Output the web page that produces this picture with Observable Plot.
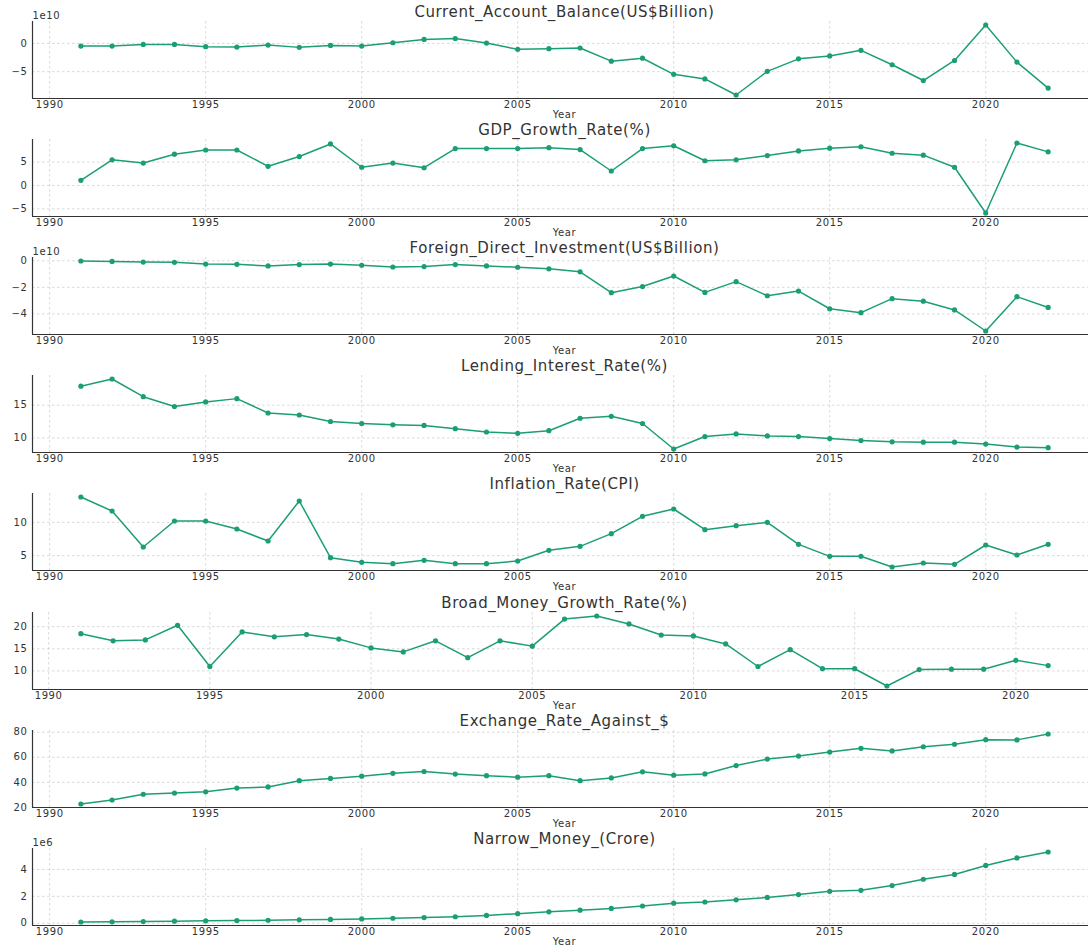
<!DOCTYPE html>
<html>
<head>
<meta charset="utf-8">
<script src="https://cdn.jsdelivr.net/npm/d3@7"></script>
<script src="https://cdn.jsdelivr.net/npm/@observablehq/plot@0.6"></script>
<style>
  html, body { margin: 0; padding: 0; background: #fff; overflow: hidden; }
  #charts { position: relative; width: 1096px; height: 945px; }
  #charts svg { position: absolute; left: 0; }
</style>
</head>
<body>
<div id="charts"></div>
<script>
// Calendar years covered by the indicators
const years = [1991, 1992, 1993, 1994, 1995, 1996, 1997, 1998, 1999, 2000,
  2001, 2002, 2003, 2004, 2005, 2006, 2007, 2008, 2009, 2010,
  2011, 2012, 2013, 2014, 2015, 2016, 2017, 2018, 2019, 2020, 2021, 2022];

// Current account balance, US$
const currentAccountBalance = [-4.7e9, -4.7e9, -1.7e9, -1.7e9, -5.8e9, -6.4e9, -2.9e9, -7.0e9, -3.5e9, -4.7e9,
  1.2e9, 7.0e9, 8.7e9, 0.6e9, -10.5e9, -9.3e9, -8.1e9, -31.4e9, -26.2e9, -54.7e9,
  -62.8e9, -91.3e9, -49.4e9, -27.3e9, -22.1e9, -12.2e9, -37.8e9, -65.7e9, -30.2e9, 32.6e9, -33.1e9, -79.1e9];

// Real GDP growth, %
const gdpGrowthRate = [1.1, 5.5, 4.8, 6.7, 7.6, 7.6, 4.1, 6.2, 8.9, 3.9,
  4.8, 3.8, 7.9, 7.9, 7.9, 8.1, 7.7, 3.1, 7.9, 8.5,
  5.3, 5.5, 6.4, 7.4, 8.0, 8.3, 6.9, 6.5, 3.9, -5.9, 9.1, 7.2];

// Foreign direct investment (net), US$
const foreignDirectInvestment = [-0.2e9, -0.5e9, -1.0e9, -1.2e9, -2.5e9, -2.7e9, -3.9e9, -2.9e9, -2.5e9, -3.4e9,
  -4.7e9, -4.4e9, -2.9e9, -3.9e9, -4.9e9, -6.1e9, -8.3e9, -24.0e9, -19.4e9, -11.5e9,
  -23.8e9, -15.7e9, -26.3e9, -22.8e9, -36.1e9, -39.0e9, -28.5e9, -30.4e9, -37.0e9, -52.8e9, -27.0e9, -35.1e9];

// Lending interest rate, %
const lendingInterestRate = [17.9, 19.0, 16.3, 14.8, 15.5, 16.0, 13.8, 13.5, 12.5, 12.2,
  12.0, 11.9, 11.4, 10.9, 10.7, 11.1, 13.0, 13.3, 12.2, 8.3,
  10.2, 10.6, 10.3, 10.2, 9.9, 9.6, 9.4, 9.35, 9.35, 9.05, 8.6, 8.5];

// Consumer price inflation, %
const inflationRate = [13.8, 11.7, 6.3, 10.2, 10.2, 9.0, 7.2, 13.2, 4.7, 4.0,
  3.8, 4.3, 3.8, 3.8, 4.2, 5.8, 6.4, 8.3, 10.9, 12.0,
  8.9, 9.5, 10.0, 6.7, 4.9, 4.9, 3.3, 3.9, 3.7, 6.6, 5.1, 6.7];

// Broad money growth, % (series ends in 2021)
const broadMoneyGrowthRate = [18.4, 16.8, 17.0, 20.3, 11.0, 18.8, 17.7, 18.2, 17.2, 15.2,
  14.3, 16.8, 13.0, 16.8, 15.6, 21.7, 22.4, 20.6, 18.1, 17.9,
  16.1, 11.0, 14.8, 10.5, 10.5, 6.6, 10.3, 10.4, 10.4, 12.4, 11.2];

// Exchange rate, rupees per US$
const exchangeRate = [22.7, 25.9, 30.5, 31.4, 32.4, 35.4, 36.3, 41.3, 43.1, 44.9,
  47.2, 48.6, 46.6, 45.3, 44.1, 45.3, 41.3, 43.5, 48.4, 45.7,
  46.7, 53.4, 58.6, 61.0, 64.2, 67.2, 65.1, 68.4, 70.4, 74.1, 73.9, 78.6];

// Narrow money, crore
const narrowMoney = [90000, 105000, 120000, 150000, 175000, 195000, 220000, 250000, 285000, 320000,
  370000, 420000, 480000, 580000, 710000, 850000, 970000, 1100000, 1280000, 1490000,
  1580000, 1740000, 1920000, 2130000, 2370000, 2450000, 2800000, 3270000, 3630000, 4300000, 4860000, 5300000];

// Panel titles, scale divisors, offset labels and y tick values
const titles = ["Current_Account_Balance(US$Billion)", "GDP_Growth_Rate(%)", "Foreign_Direct_Investment(US$Billion)",
  "Lending_Interest_Rate(%)", "Inflation_Rate(CPI)", "Broad_Money_Growth_Rate(%)", "Exchange_Rate_Against_$", "Narrow_Money_(Crore)"];
const series = [currentAccountBalance, gdpGrowthRate, foreignDirectInvestment, lendingInterestRate,
  inflationRate, broadMoneyGrowthRate, exchangeRate, narrowMoney];
const divisors = [1e10, 1, 1e10, 1, 1, 1, 1, 1e6];
const offsetLabels = ["1e10", null, "1e10", null, null, null, null, "1e6"];
const yTicks = [[-5, 0], [-5, 0, 5], [-4, -2, 0], [10, 15], [5, 10], [10, 15, 20], [20, 40, 60, 80], [0, 2, 4]];
const xTicks = [1990, 1995, 2000, 2005, 2010, 2015, 2020];

const color = "#1b9e77";
const W = 1096, H = 118, panelStep = 118.1;
const container = document.getElementById("charts");

titles.forEach((title, i) => {
  const values = series[i];
  const rows = values.map((v, j) => ({year: years[j], v: v / divisors[i]}));
  const [x0, x1] = d3.extent(rows, d => d.year);
  const xpad = (x1 - x0) * 0.05;
  const [y0, y1] = d3.extent(rows, d => d.v);
  const ypad = (y1 - y0) * 0.05;
  const xMin = x0 - xpad, yMin = y0 - ypad;

  const chart = Plot.plot({
    width: W,
    height: H,
    marginLeft: 32,
    marginRight: 0,
    marginTop: 21,
    marginBottom: 20,
    style: {fontFamily: "DejaVu Sans", fontSize: "10px", color: "#333", background: "transparent", overflow: "visible", letterSpacing: "0.6px"},
    x: {domain: [xMin, x1 + xpad]},
    y: {domain: [yMin, y1 + ypad]},
    marks: [
      Plot.gridX(xTicks, {stroke: "#bbb", strokeOpacity: 0.7, strokeWidth: 0.8, strokeDasharray: "2.5,2.5"}),
      Plot.gridY(yTicks[i], {stroke: "#bbb", strokeOpacity: 0.7, strokeWidth: 0.8, strokeDasharray: "2.5,2.5"}),
      Plot.axisX(xTicks, {tickSize: 0, tickPadding: 2, tickFormat: "d", label: null}),
      Plot.axisY(yTicks[i], {tickSize: 0, tickPadding: 5, label: null}),
      Plot.ruleX([xMin], {stroke: "#333", strokeWidth: 1.2}),
      Plot.ruleY([yMin], {stroke: "#333", strokeWidth: 1.2}),
      Plot.line(rows, {x: "year", y: "v", stroke: color, strokeWidth: 1.5}),
      Plot.dot(rows, {x: "year", y: "v", fill: color, r: 2.6}),
      Plot.text([title], {frameAnchor: "top", lineAnchor: "middle", dy: -9, fontSize: 15, fill: "#333", style: "letter-spacing:1px"}),
      Plot.text(["Year"], {frameAnchor: "bottom", lineAnchor: "middle", dy: 16, fontSize: 10, fill: "#333"}),
      offsetLabels[i] ? Plot.text([offsetLabels[i]], {frameAnchor: "top-left", lineAnchor: "middle", textAnchor: "start", dy: -6, fontSize: 10, fill: "#333"}) : null
    ]
  });
  chart.style.top = Math.round(i * panelStep) + "px";
  container.append(chart);
});
</script>
</body>
</html>
